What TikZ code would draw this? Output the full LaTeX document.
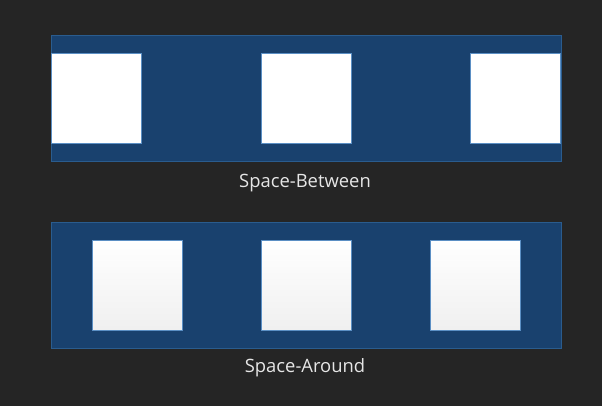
\documentclass[tikz,border=0pt]{standalone}
\usepackage{fontspec}
\setmainfont{Open Sans}
\definecolor{bg}{HTML}{252525}
\definecolor{cont}{HTML}{19416E}
\definecolor{contedge}{HTML}{2A5C8E}
\definecolor{boxedge}{HTML}{5B8FC4}
\definecolor{txt}{HTML}{E6E6E6}
\tikzset{
  container/.style={fill=cont, draw=contedge, line width=0.8pt},
  itembox/.style={fill=white, draw=boxedge, line width=0.8pt},
  itemgrad/.style={top color=white, bottom color=black!6, draw=boxedge, line width=0.8pt},
  lbl/.style={text=txt, font=\fontsize{18.4}{22}\selectfont, inner sep=0pt}
}
\begin{document}
\begin{tikzpicture}[x=1pt,y=-1pt]
\fill[bg] (0,0) rectangle (602,406);
\useasboundingbox (0,0) rectangle (602,406);
% top container
\draw[container] (51,35) rectangle (561,161);
\node[itembox, minimum width=90pt, minimum height=90pt, inner sep=0pt] (t1) at (96,98) {};
\node[itembox, minimum width=90pt, minimum height=90pt, inner sep=0pt] (t2) at (306,98) {};
\node[itembox, minimum width=90pt, minimum height=90pt, inner sep=0pt] (t3) at (515,98) {};
\node[lbl] (l1) at (305,183) {Space-Between};
% bottom container
\draw[container] (51,222) rectangle (561,348);
\node[itemgrad, minimum width=90pt, minimum height=90pt, inner sep=0pt] (b1) at (137,285) {};
\node[itemgrad, minimum width=90pt, minimum height=90pt, inner sep=0pt] (b2) at (306,285) {};
\node[itemgrad, minimum width=90pt, minimum height=90pt, inner sep=0pt] (b3) at (475,285) {};
\node[lbl] (l2) at (305,368) {Space-Around};
\end{tikzpicture}
\end{document}
